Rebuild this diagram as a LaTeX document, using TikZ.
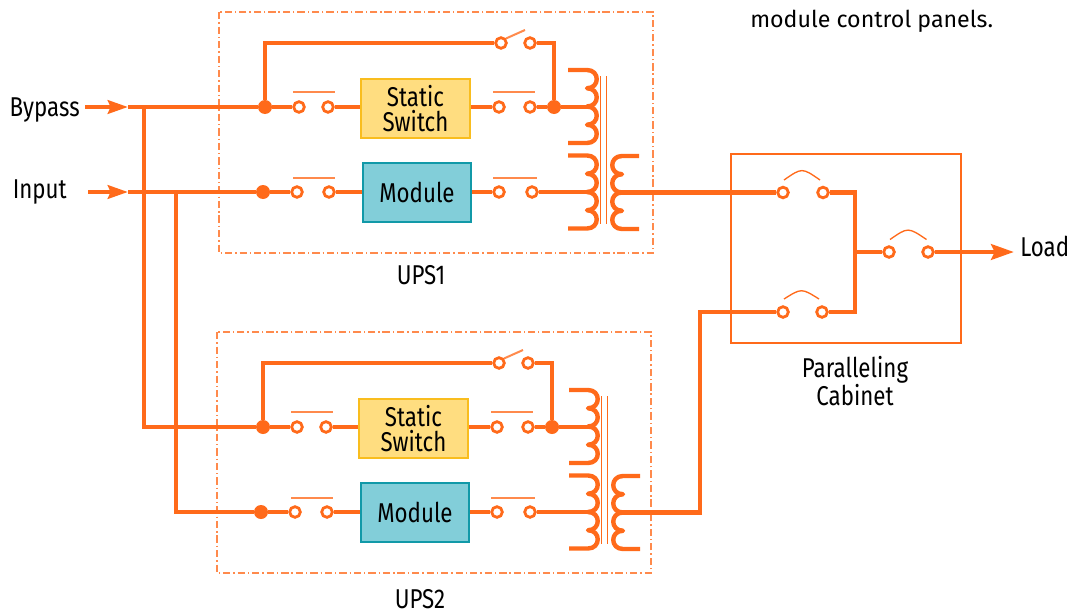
\documentclass[tikz,border=0pt]{standalone}
\usepackage{fontspec}
\setmainfont{Fira Sans}[FakeStretch=0.82]
\newfontfamily\capfont{Fira Sans}
\usetikzlibrary{arrows.meta}
\definecolor{wireC}{HTML}{FF6A1A}
\definecolor{lightC}{HTML}{FF8A4C}
\definecolor{ssFill}{HTML}{FFDD80}
\definecolor{ssDraw}{HTML}{F9BD1E}
\definecolor{modFill}{HTML}{82CED9}
\definecolor{modDraw}{HTML}{1199A8}
\newcommand\lblfont{\fontsize{20.4pt}{18.8pt}\selectfont}
\tikzset{
 wire/.style={draw=wireC, line width=3.6pt},
 coilwire/.style={draw=wireC, line width=3.3pt, line join=round},
 core/.style={draw=wireC, line width=1.2pt},
 thinwire/.style={draw=lightC, line width=1.5pt},
 arcwire/.style={draw=wireC, line width=1pt},
 contact/.style={circle, draw=wireC, fill=white, line width=2.1pt, minimum size=8pt, inner sep=0pt},
 dot/.style={circle, fill=wireC, minimum size=10.5pt, inner sep=0pt},
 ssbox/.style={draw=ssDraw, fill=ssFill, line width=1.6pt, minimum width=81.75pt, minimum height=44.25pt, inner sep=0pt, align=center, font=\lblfont},
 modbox/.style={draw=modDraw, fill=modFill, line width=1.8pt, minimum width=81pt, minimum height=44.25pt, inner sep=0pt, font=\lblfont},
 lbl/.style={inner sep=0pt, font=\lblfont, text=black},
 upsbox/.style={draw=lightC, line width=1.1pt, dash pattern=on 5.5pt off 2.2pt on 1pt off 2.2pt},
 cabbox/.style={draw=wireC, line width=1.1pt},
 arrowtip/.style={-{Stealth[length=15pt,width=10pt,inset=2pt]}},
}
% #1 lead x, #2 cusp x, #3 top y, #4 control x
\newcommand\mycoil[4]{%
 \pgfmathsetmacro\cya{#3+18.25}\pgfmathsetmacro\cyb{#3+36.5}%
 \pgfmathsetmacro\cyc{#3+54.75}\pgfmathsetmacro\cyd{#3+73}%
 \draw[coilwire] (#1,#3) -- (#2,#3)
   .. controls (#4,#3) and (#4,\cya) .. (#2,\cya)
   .. controls (#4,\cya) and (#4,\cyb) .. (#2,\cyb)
   .. controls (#4,\cyb) and (#4,\cyc) .. (#2,\cyc)
   .. controls (#4,\cyc) and (#4,\cyd) .. (#2,\cyd) -- (#1,\cyd);}
% #1 prefix, #2 dx, #3 dy, #4 transformer extra dx
\newcommand\upsunit[4]{%
\begin{scope}[shift={(#2,#3)}]
 \coordinate (#1nw) at (219,12); \coordinate (#1se) at (653,253);
 \draw[upsbox] (#1nw) rectangle (#1se);
 \node[dot] (#1dB) at (265,107) {};
 \node[dot] (#1dR) at (554,107) {};
 \node[dot] (#1dM) at (263,192) {};
 \node[contact] (#1ta) at (501,43) {};
 \node[contact] (#1tb) at (530,43) {};
 \node[contact] (#1s1) at (299,107) {};
 \node[contact] (#1s2) at (328,107) {};
 \node[ssbox] (#1ss) at (415.5,108.5) {Static\\Switch};
 \node[contact] (#1s3) at (499,107) {};
 \node[contact] (#1s4) at (530,107) {};
 \node[contact] (#1m1) at (297,192) {};
 \node[contact] (#1m2) at (329,192) {};
 \node[modbox] (#1mod) at (417,192.5) {Module};
 \node[contact] (#1m3) at (499,192) {};
 \node[contact] (#1m4) at (532,192) {};
 \draw[thinwire] (293,92) -- (335,92);
 \draw[thinwire] (493,92) -- (535,92);
 \draw[thinwire] (293,178) -- (335,178);
 \draw[thinwire] (493,178) -- (537,178);
 \draw[thinwire] (506,38.5) -- (525,30);
 \begin{scope}[shift={(#4,0)}]
  \coordinate (#1pc1) at (587,107);
  \coordinate (#1pc2) at (587,192);
  \coordinate (#1out) at (622,192.5);
  \mycoil{568}{587}{70}{600}
  \mycoil{568}{587}{155.5}{600}
  \mycoil{639}{622}{156}{609}
  \draw[core] (600.5,76) -- (600.5,224);
  \draw[core] (606.5,76) -- (606.5,224);
 \end{scope}
 \draw[wire] (#1dB) |- (#1ta);
 \draw[wire] (#1tb) -| (#1dR);
 \draw[wire] (#1dB) -- (#1s1);
 \draw[wire] (#1s2) -- (#1s2 -| #1ss.west);
 \draw[wire] (#1s3 -| #1ss.east) -- (#1s3);
 \draw[wire] (#1s4) -- (#1dR);
 \draw[wire] (#1dR) -- (#1pc1);
 \draw[wire] (#1dM) -- (#1m1);
 \draw[wire] (#1m2) -- (#1m2 -| #1mod.west);
 \draw[wire] (#1m3 -| #1mod.east) -- (#1m3);
 \draw[wire] (#1m4) -- (#1pc2);
\end{scope}}
\begin{document}
\begin{tikzpicture}[x=0.75pt,y=-0.75pt]
\useasboundingbox (0,0) rectangle (1071,614);
\fill[white] (0,0) rectangle (1071,614);
\upsunit{A}{0}{0}{0}
\upsunit{B}{-2}{320}{3}
\node[lbl, anchor=base] (upsA) at (421,284) {UPS1};
\node[lbl, anchor=base] (upsB) at (420,608) {UPS2};
% inputs
\node[lbl, anchor=base east] (bypass) at (80,116) {Bypass};
\node[lbl, anchor=base east] (input) at (67,198) {Input};
\coordinate (bpS) at (85,107); \coordinate (bpA) at (128,107); \coordinate (jB) at (144,107);
\coordinate (inS) at (88,192); \coordinate (inA) at (128,192); \coordinate (jI) at (176,192);
\draw[wire,arrowtip] (bpS) -- (bpA);
\draw[wire] (bpA) -- (AdB);
\draw[wire,arrowtip] (inS) -- (inA);
\draw[wire] (inA) -- (AdM);
\draw[wire] (jB) |- (BdB);
\draw[wire] (jI) |- (BdM);
% paralleling cabinet
\coordinate (cnw) at (731,154); \coordinate (cse) at (961,343);
\draw[cabbox] (cnw) rectangle (cse);
\node[contact] (c1a) at (783,192.5) {};
\node[contact] (c1b) at (823,192.5) {};
\node[contact] (c2a) at (783,312) {};
\node[contact] (c2b) at (822,312) {};
\node[contact] (c3a) at (889,252) {};
\node[contact] (c3b) at (928,252) {};
\coordinate (cj) at (855,252);
\coordinate (cv) at (700,512.5);
\coordinate (ldA) at (1014,252);
\draw[arcwire] (784,180) .. controls (802,167.5) .. (820,180);
\draw[arcwire] (784,299) .. controls (801.5,288) .. (819,299);
\draw[arcwire] (890,239.5) .. controls (908,227) .. (926.5,239.5);
\draw[wire] (Aout) -- (c1a);
\draw[wire] (c1b) -| (cj) |- (c2b);
\draw[wire] (cj) -- (c3a);
\draw[wire] (c2a) -| (cv) -- (Bout);
\draw[wire,-{Stealth[length=17pt,width=11.5pt,inset=2.5pt]}] (c3b) -- (ldA);
\node[lbl, anchor=base west] (load) at (1020,256) {Load};
\node[lbl, anchor=south, align=center] (cab) at (855,406) {Paralleling\\Cabinet};
\node[inner sep=0pt, anchor=base west, text=black, font=\capfont\fontsize{17.4pt}{20pt}\selectfont] (cap) at (750,27) {module control panels.};
\end{tikzpicture}
\end{document}
